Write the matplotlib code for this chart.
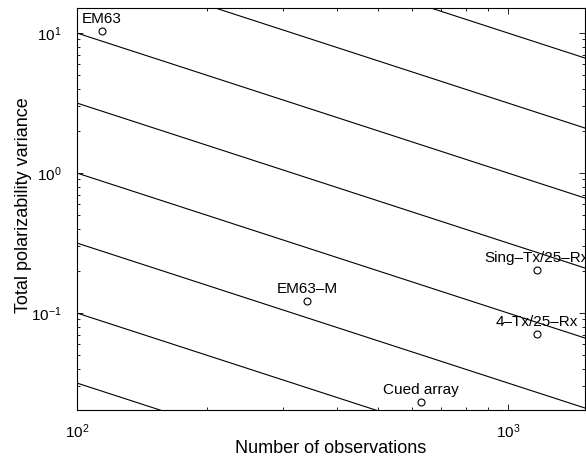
import numpy as np
import matplotlib
matplotlib.use("Agg")
import matplotlib.pyplot as plt

plt.rcParams["font.family"] = ["Liberation Sans", "DejaVu Sans"]
plt.rcParams["mathtext.fontset"] = "custom"
plt.rcParams["mathtext.rm"] = "Liberation Sans"
plt.rcParams["mathtext.it"] = "Liberation Sans"

# --- data ---------------------------------------------------------------------
system_names = ["EM63", "EM63–M", "Sing–Tx/25–Rx", "4–Tx/25–Rx", "Cued array"]
n_obs = [114, 342, 1167, 1167, 627]
pol_variance = [10.4, 0.122, 0.203, 0.0708, 0.0232]

# reference lines: variance = c / N
line_consts = [10**0.5, 10**1, 10**1.5, 10**2, 10**2.5, 10**3, 10**3.5, 10**4]

x_lim = (100, 1508)
y_lim = (0.0203, 15.1)

# --- figure -------------------------------------------------------------------
fig = plt.figure(figsize=(5.86, 4.61), dpi=100)
ax = fig.add_axes([0.1314, 0.1106, 0.8669, 0.872])

xx = np.array(x_lim)
for c in line_consts:
    ax.plot(xx, c / xx, color="black", lw=0.8)

ax.plot(n_obs, pol_variance, "o", mfc="white", mec="black", ms=5, mew=0.8)
for name, xv, yv in zip(system_names, n_obs, pol_variance):
    # labels are clipped at the axes edge, as in the original
    ax.annotate(name, (xv, yv), xytext=(0, 3.5), textcoords="offset points",
                ha="center", va="bottom", fontsize=11, clip_on=True)

ax.set_xscale("log")
ax.set_yscale("log")
ax.set_xlim(*x_lim)
ax.set_ylim(*y_lim)

ax.tick_params(which="both", direction="in", top=True, right=True,
               labelsize=11, width=0.6)
ax.tick_params(which="major", length=4)
ax.tick_params(which="minor", length=2)
ax.tick_params(axis="x", pad=9)
ax.tick_params(axis="y", pad=11)
for s in ax.spines.values():
    s.set_linewidth(0.8)

ax.set_xlabel("Number of observations", fontsize=13)
ax.set_ylabel("Total polarizability variance", fontsize=13)
ax.xaxis.set_label_coords(0.5, -0.075)
ax.yaxis.set_label_coords(-0.088, 0.51)

fig.savefig("out.png", dpi=100)
